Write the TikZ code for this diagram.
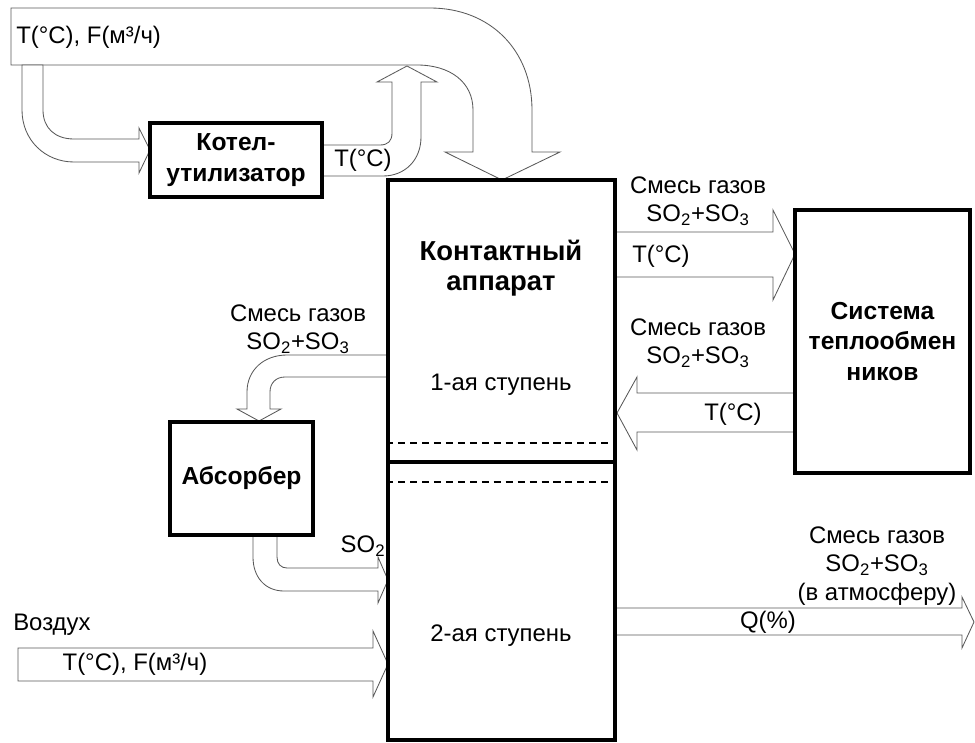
\documentclass[tikz,border=0pt]{standalone}
\usepackage{fontspec}
\setmainfont{Liberation Sans}
\usetikzlibrary{positioning,calc}

\begin{document}
\begin{tikzpicture}[x=0.025cm, y=-0.025cm,
    unit/.style={rectangle, draw, line width=2.6pt, fill=white, inner sep=0pt, font=\fontsize{17.5}{21.5}\selectfont\bfseries, align=center},
    blockarr/.style={draw=gray!70!black, line width=0.6pt, fill=white},
    lbl/.style={font=\fontsize{17}{20.5}\selectfont, align=center, inner sep=0pt},
    blbl/.style={lbl, font=\fontsize{19.5}{21}\selectfont\bfseries},
    stage/.style={dash pattern=on 5pt off 3.5pt, line width=0.8pt}
]
\useasboundingbox (0,0) rectangle (975,743);

% Gas feed from the top (band, branch to the boiler)
\draw[blockarr] (11,8) -- (430,8) .. controls (490,8) and (532,50) .. (532,110) -- (532,152) -- (560,152) -- (502,180) -- (445,152) -- (473,152) -- (473,110) .. controls (473,82) and (450,65) .. (417,65) -- (11,65) -- cycle;
\draw[blockarr] (22,65) -- (22,110) .. controls (22,140) and (45,162) .. (74,162) -- (139,162) -- (139,173) -- (150,150) -- (139,128) -- (139,139) -- (74,139) .. controls (55,139) and (43,128) .. (43,110) -- (43,65) -- cycle;
\node[lbl, anchor=west] (feed) at (16,37) {T(°C), F(м³/ч)};

% Boiler return (up into the band)
\draw[blockarr] (322,145) -- (380,145) .. controls (388,145) and (392,141) .. (392,133) -- (392,82) -- (377,82) -- (407,66) -- (437,82) -- (421,82) -- (421,137) .. controls (421,160) and (405,176) .. (383,176) -- (322,176) -- cycle;
\node[lbl] (tkot) at (363,160) {T(°C)};

% To / from the absorber
\draw[blockarr] (388,355) -- (287,355) .. controls (264,355) and (247,370) .. (247,392) -- (247,409) -- (237,409) -- (259,421) -- (281,409) -- (270,409) -- (270,392) .. controls (270,383) and (276,377) .. (285,377) -- (388,377) -- cycle;
\node[lbl] (mixabs) at (298,329) {Смесь газов\\SO\textsubscript{2}+SO\textsubscript{3}};
\draw[blockarr] (253,535) -- (253,557) .. controls (253,577) and (265,591) .. (284,591) -- (378,591) -- (378,603) -- (388,580) -- (378,557) -- (378,568) -- (287,568) .. controls (281,568) and (277,564) .. (277,557) -- (277,535) -- cycle;
\node[lbl] (so2) at (363,546) {SO\textsubscript{2}};

% Air inlet
\draw[blockarr] (18,648) -- (373,648) -- (373,631) -- (388,664) -- (373,697) -- (373,681) -- (18,681) -- cycle;
\node[lbl, anchor=west] (air) at (13,625) {Воздух};
\node[lbl] (airtf) at (135,664) {T(°C), F(м³/ч)};

% Heat exchangers (out and back)
\draw[blockarr] (615,232) -- (773,232) -- (773,210) -- (795,254) -- (773,300) -- (773,277) -- (615,277) -- cycle;
\node[lbl] (mixout) at (698,201) {Смесь газов\\SO\textsubscript{2}+SO\textsubscript{3}};
\node[lbl, anchor=west] (tout) at (632,256) {T(°C)};
\draw[blockarr] (795,393) -- (637,393) -- (637,377) -- (617,413) -- (637,450) -- (637,432) -- (795,432) -- cycle;
\node[lbl] (mixback) at (698,343) {Смесь газов\\SO\textsubscript{2}+SO\textsubscript{3}};
\node[lbl] (tback) at (733,414) {T(°C)};

% Exhaust
\draw[blockarr] (615,608) -- (962,608) -- (962,597) -- (974,622) -- (962,648) -- (962,635) -- (615,635) -- cycle;
\node[lbl] (mixatm) at (877,566) {Смесь газов\\SO\textsubscript{2}+SO\textsubscript{3}\\(в атмосферу)};
\node[lbl] (q) at (768,622) {Q(\%)};

% Units
\node[unit, minimum width=4.3cm, minimum height=1.85cm] (kotel) at (236,160) {Котел-\\утилизатор};
\node[unit, minimum width=3.575cm, minimum height=2.825cm] (absorb) at (241.5,478.5) {Абсорбер};
\node[unit, minimum width=4.375cm, minimum height=6.575cm] (heat) at (882.5,341.5) {Система\\теплообмен\\ников};
\node[unit, minimum width=5.675cm, minimum height=14cm] (contact) at (501.5,460) {};

% Contact apparatus stages
\draw[line width=2.6pt] (contact.west |- 0,462) -- (contact.east |- 0,462);
\draw[stage] (contact.west |- 0,443) -- (contact.east |- 0,443);
\draw[stage] (contact.west |- 0,482) -- (contact.east |- 0,482);
\node[blbl] (title) at (501,268) {Контактный\\аппарат};
\node[lbl] (st1) at (501,385) {1-ая ступень};
\node[lbl] (st2) at (501,636) {2-ая ступень};

\end{tikzpicture}
\end{document}
